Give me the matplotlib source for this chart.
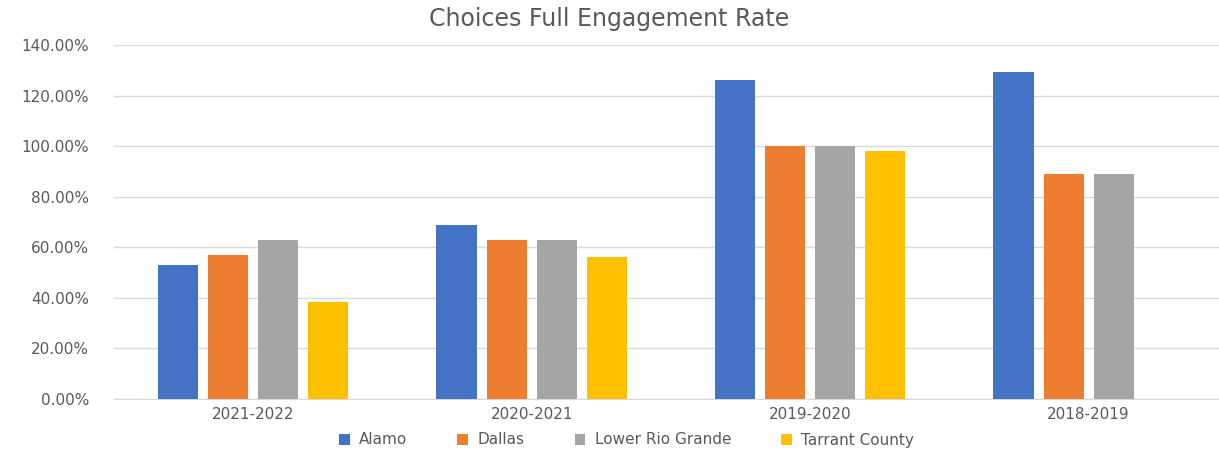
import matplotlib
matplotlib.use("Agg")
import matplotlib.pyplot as plt
import numpy as np
from matplotlib.ticker import FuncFormatter

years = ['2021-2022', '2020-2021', '2019-2020', '2018-2019']
alamo = [0.53, 0.69, 1.26, 1.293]
dallas = [0.57, 0.63, 1.00, 0.89]
lower_rio = [0.63, 0.63, 1.00, 0.89]
tarrant = [0.382, 0.56, 0.98, np.nan]

series = [('Alamo', alamo, '#4472C4'),
          ('Dallas', dallas, '#ED7D31'),
          ('Lower Rio Grande', lower_rio, '#A5A5A5'),
          ('Tarrant County', tarrant, '#FFC000')]

plt.rcParams['font.family'] = ['DejaVu Sans']

fig = plt.figure(figsize=(12.19, 4.51), dpi=100)
ax = fig.add_axes([114/1219, 1-399/451, 1105/1219, 354/451])

x = np.arange(len(years))
pitch = 0.18
width = 0.144
for i, (name, vals, col) in enumerate(series):
    ax.bar(x + (i - 1.5)*pitch, vals, width, color=col, label=name, zorder=3)

ax.set_ylim(0, 1.4)
ax.set_xlim(-0.5, 3.468)
ax.set_yticks(np.arange(0, 1.41, 0.2))
ax.yaxis.set_major_formatter(FuncFormatter(lambda v, p: '%.2f%%' % (v*100)))
ax.set_xticks(x)
ax.set_xticklabels(years)
ax.grid(axis='y', color='#d9d9d9', linewidth=1, zorder=0)
for s in ['top', 'right', 'left']:
    ax.spines[s].set_visible(False)
ax.spines['bottom'].set_color('#d9d9d9')
ax.tick_params(axis='both', length=0, labelsize=11, labelcolor='#595959')
ax.tick_params(axis='y', pad=18)
ax.tick_params(axis='x', pad=6)

fig.text(0.5, 1-19/451, 'Choices Full Engagement Rate', ha='center', va='center',
         fontsize=17, color='#595959')

fig.legend(loc='center', bbox_to_anchor=(0.514, 1-440/451), ncol=4, frameon=False,
           fontsize=11, labelcolor='#595959', handlelength=0.7, handleheight=0.7,
           handletextpad=0.6, columnspacing=3.3)

fig.savefig('out.png', dpi=100)
